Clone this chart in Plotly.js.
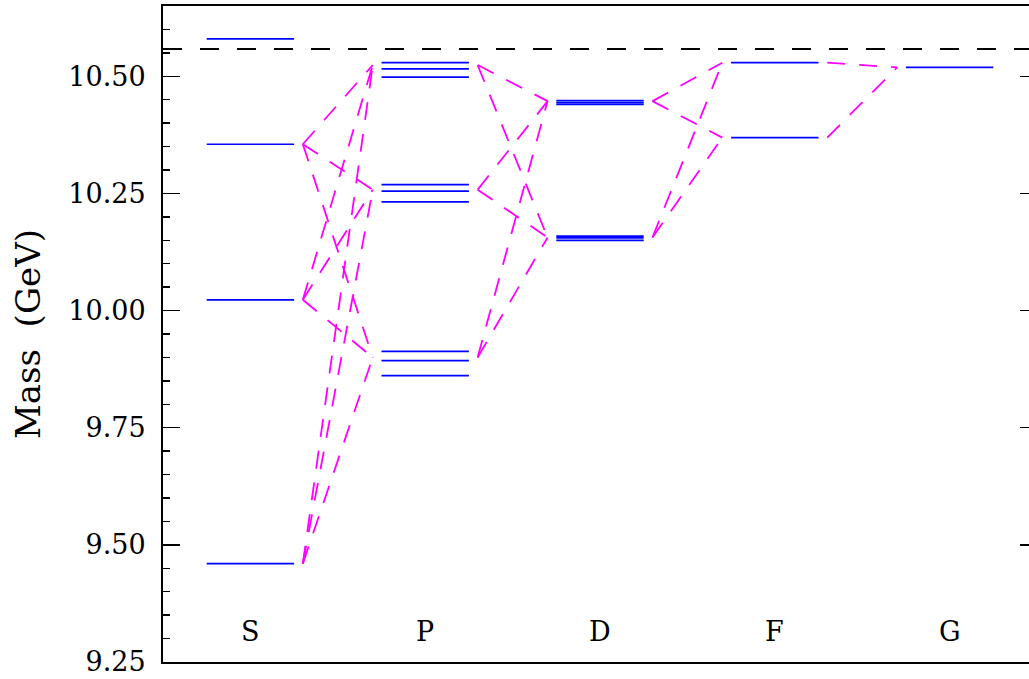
<!DOCTYPE html>
<html>
<head>
<meta charset="utf-8">
<script src="https://cdn.plot.ly/plotly-3.0.1.min.js"></script>
<style>
  html, body { margin: 0; padding: 0; overflow: hidden; background: #fff; }
</style>
</head>
<body>
<div id="levelPlot"></div>
<script>
// orbital waves, one column each
const waves = ["S", "P", "D", "F", "G"];

// individual levels (GeV) drawn as short blue bars
const sLevels = [9.460, 10.023, 10.355, 10.580];
const pLevels = [9.861, 9.893, 9.913, 10.232, 10.255, 10.269, 10.498, 10.516, 10.529];
const dLevels = [10.150, 10.155, 10.159, 10.440, 10.444, 10.448];
const fLevels = [10.369, 10.529];
const gLevels = [10.519];

// multiplet masses used as end points of the transitions
const sMultiplets = [9.460, 10.023, 10.355];
const pMultiplets = [9.900, 10.258, 10.524];
const dMultiplets = [10.156, 10.447];
const fMultiplets = [10.369, 10.529];
const gMultiplets = [10.519];

// open flavour threshold
const threshold = 10.558;

const allLevels = [sLevels, pLevels, dLevels, fLevels, gLevels];
const allMultiplets = [sMultiplets, pMultiplets, dMultiplets, fMultiplets, gMultiplets];

const halfWidth = 0.25;
const gap = 0.05;

// blue level bars, one trace with breaks
let lx = [], ly = [];
allLevels.forEach((levels, L) => {
    levels.forEach(m => {
        lx.push(L - halfWidth, L + halfWidth, null);
        ly.push(m, m, null);
    });
});

var traceLevels = {
    x: lx,
    y: ly,
    mode: "lines",
    line: { color: "#0000ff", width: 1.7 },
    hoverinfo: "skip",
    showlegend: false
};

// magenta transitions between neighbouring waves
var transTraces = [];
for (let L = 0; L < allMultiplets.length - 1; L++) {
    allMultiplets[L].forEach(m1 => {
        allMultiplets[L + 1].forEach(m2 => {
            transTraces.push({
                x: [L + halfWidth + gap, L + 1 - halfWidth - gap],
                y: [m1, m2],
                mode: "lines",
                line: { color: "#ff00ff", width: 1.8, dash: "18px,14px" },
                hoverinfo: "skip",
                showlegend: false
            });
        });
    });
}

var traceThreshold = {
    x: [-0.5, 4.5],
    y: [threshold, threshold],
    mode: "lines",
    line: { color: "#000000", width: 2, dash: "19px,18px" },
    hoverinfo: "skip",
    showlegend: false
};

var data = [traceThreshold].concat(transTraces, [traceLevels]);

var serif = "DejaVu Serif, Liberation Serif, serif";

var layout = {
    width: 1045,
    height: 679,
    margin: { l: 163, r: 8, t: 6, b: 17 },
    paper_bgcolor: "#ffffff",
    plot_bgcolor: "#ffffff",
    showlegend: false,
    font: { family: serif, color: "#000000" },
    xaxis: {
        range: [-0.5, 4.5],
        showticklabels: false,
        ticks: "",
        showgrid: false,
        zeroline: false,
        showline: true,
        linecolor: "#000000",
        linewidth: 2,
        mirror: true,
        fixedrange: true
    },
    yaxis: {
        range: [9.25, 10.65],
        tick0: 9.25,
        dtick: 0.25,
        tickformat: ".2f",
        ticks: "inside",
        ticklen: 17,
        tickwidth: 1.3,
        tickcolor: "#000000",
        ticklabelstandoff: 10,
        tickfont: { family: serif, size: 27, color: "#000000" },
        minor: { dtick: 0.05, ticks: "inside", ticklen: 7, tickwidth: 1.3, tickcolor: "#000000" },
        showgrid: false,
        zeroline: false,
        showline: true,
        linecolor: "#000000",
        linewidth: 2,
        mirror: "ticks",
        fixedrange: true,
        title: {
            text: "Mass\u00a0\u00a0(GeV)",
            font: { family: serif, size: 34, color: "#000000" },
            standoff: 17
        }
    },
    annotations: waves.map((w, i) => ({
        x: i,
        y: 9.316,
        xref: "x",
        yref: "y",
        text: w,
        showarrow: false,
        font: { family: serif, size: 27, color: "#000000" }
    }))
};

Plotly.newPlot("levelPlot", data, layout, { displayModeBar: false, staticPlot: true });
</script>
</body>
</html>
